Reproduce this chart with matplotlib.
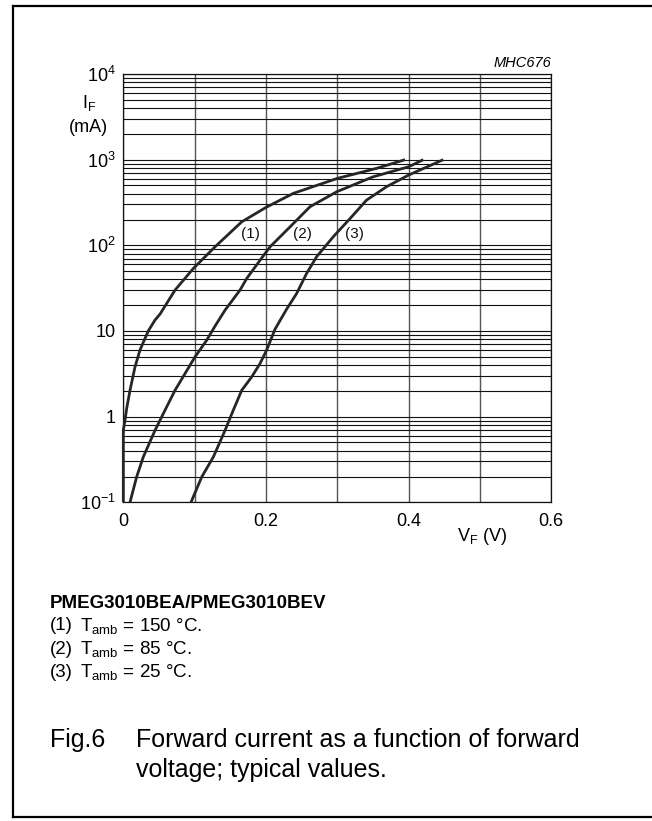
import matplotlib
matplotlib.use("Agg")
import matplotlib.pyplot as plt
from matplotlib.lines import Line2D
from matplotlib.ticker import FixedLocator, FixedFormatter, LogLocator, NullFormatter

plt.rcParams['font.family'] = ['Liberation Sans', 'DejaVu Sans']
plt.rcParams['mathtext.fontset'] = 'custom'
plt.rcParams['mathtext.rm'] = 'Liberation Sans'
plt.rcParams['mathtext.it'] = 'Liberation Sans:italic'
plt.rcParams['mathtext.bf'] = 'Liberation Sans:bold'
plt.rcParams['mathtext.sf'] = 'Liberation Sans'

# ---- data ----
vf_150 = [0.000, 0.000, 0.000, 0.0024, 0.0047, 0.0094, 0.0164, 0.0234, 0.035, 0.0444,
          0.0516, 0.0725, 0.0982, 0.1286, 0.166, 0.200, 0.2383, 0.300, 0.355, 0.395]
if_150 = [0.1, 0.40, 0.69, 0.91, 1.24, 2.03, 3.8, 6.0, 10, 13.4,
          15.8, 30, 53.7, 96, 188, 277, 404, 604, 791, 1000]

vf_85 = [0.0094, 0.0187, 0.028, 0.0444, 0.0585, 0.0725, 0.0865, 0.1005, 0.1169, 0.1286,
         0.1426, 0.1636, 0.173, 0.1917, 0.2057, 0.2337, 0.2617, 0.2992, 0.350, 0.400, 0.4206]
if_85 = [0.1, 0.198, 0.338, 0.69, 1.19, 2.03, 3.18, 4.98, 7.8, 11.4,
         17.5, 30, 41, 67, 96, 164, 282, 422, 630, 826, 1000]

vf_25 = [0.0949, 0.110, 0.1262, 0.1426, 0.1542, 0.166, 0.180, 0.1917, 0.201, 0.2127,
         0.229, 0.243, 0.257, 0.271, 0.2944, 0.318, 0.341, 0.369, 0.400, 0.4486]
if_25 = [0.1, 0.198, 0.338, 0.69, 1.19, 2.03, 2.91, 4.17, 6.0, 10.5,
         18, 27.4, 47, 73.6, 126, 206, 337, 483, 661, 1000]

curve_labels = ['(1)', '(2)', '(3)']
label_vf = [0.1786, 0.251, 0.324]
label_if = [135, 135, 135]

x_ticks = [0.0, 0.1, 0.2, 0.3, 0.4, 0.5, 0.6]
x_ticklabels = ['0', '', '0.2', '', '0.4', '', '0.6']
y_ticks = [0.1, 1, 10, 100, 1000, 10000]
y_ticklabels = [r'$10^{-1}$', '1', '10', r'$10^{2}$', r'$10^{3}$', r'$10^{4}$']

title_text = 'PMEG3010BEA/PMEG3010BEV'
legend_nums = ['(1)', '(2)', '(3)']
legend_texts = [r'T$_{\mathregular{amb}}$ = 150 °C.',
                r'T$_{\mathregular{amb}}$ = 85 °C.',
                r'T$_{\mathregular{amb}}$ = 25 °C.']
caption_tag = 'Fig.6'
caption_lines = ['Forward current as a function of forward',
                 'voltage; typical values.']
code_text = 'MHC676'

# ---- figure ----
W, H = 652, 821
fig = plt.figure(figsize=(W / 100, H / 100), dpi=100)

def fx(px):
    return px / W

def fy(py):
    return 1 - py / H

ax_left, ax_right, ax_top, ax_bottom = 123.3, 551.3, 74.0, 502.3
ax = fig.add_axes([fx(ax_left), fy(ax_bottom), (ax_right - ax_left) / W,
                   (ax_bottom - ax_top) / H])

ax.set_yscale('log')
ax.set_xlim(0, 0.6)
ax.set_ylim(0.1, 10000)

ax.xaxis.set_major_locator(FixedLocator(x_ticks))
ax.xaxis.set_major_formatter(FixedFormatter(x_ticklabels))
ax.yaxis.set_major_locator(FixedLocator(y_ticks))
ax.yaxis.set_major_formatter(FixedFormatter(y_ticklabels))
ax.yaxis.set_minor_locator(LogLocator(base=10, subs=[2, 3, 4, 5, 6, 7, 8, 9]))
ax.yaxis.set_minor_formatter(NullFormatter())

ax.tick_params(axis='both', which='both', length=0)
ax.tick_params(axis='x', labelsize=13, pad=7.5)
ax.tick_params(axis='y', labelsize=13, pad=5.5)

ax.grid(True, axis='y', which='both', color='#111111', linewidth=0.8)
ax.grid(True, axis='x', which='major', color='#555555', linewidth=1.0)
for s in ax.spines.values():
    s.set_color('#111111')
    s.set_linewidth(0.9)

curve_color = '#262626'
for v, i in [(vf_150, if_150), (vf_85, if_85), (vf_25, if_25)]:
    ax.plot(v, i, color=curve_color, linewidth=2.0, solid_joinstyle='round',
            solid_capstyle='butt', clip_on=False, zorder=3)

for lab, v, i in zip(curve_labels, label_vf, label_if):
    ax.text(v, i, lab, fontsize=11, ha='center', va='center', color='#111111', zorder=4)

# axis labels
fig.text(fx(89), fy(103), r'I$_{\mathregular{F}}$', fontsize=13, ha='center', va='center')
fig.text(fx(88), fy(128), '(mA)', fontsize=13, ha='center', va='center')
fig.text(fx(482), fy(536), r'V$_{\mathregular{F}}$ (V)', fontsize=13, ha='center', va='center')
fig.text(fx(551), fy(63), code_text, fontsize=10.5, style='italic', ha='right', va='center')

# legend block
fig.text(fx(50), fy(603), title_text, fontsize=13.5, fontweight='bold', ha='left', va='center')
legend_y = [626, 649, 672]
for num, txt, y in zip(legend_nums, legend_texts, legend_y):
    fig.text(fx(50), fy(y), num, fontsize=13.5, ha='left', va='center')
    fig.text(fx(80), fy(y), txt, fontsize=13.5, ha='left', va='center')

# caption
fig.text(fx(50), fy(746.5), caption_tag, fontsize=18, ha='left', va='baseline')
fig.text(fx(136), fy(746.5), caption_lines[0], fontsize=18, ha='left', va='baseline')
fig.text(fx(136), fy(776.5), caption_lines[1], fontsize=18, ha='left', va='baseline')

# outer frame (left, top, bottom; right side runs off the image)
frame_kw = dict(color='black', linewidth=1.6, transform=fig.transFigure)
fig.add_artist(Line2D([fx(13), fx(13)], [fy(6), fy(817)], **frame_kw))
fig.add_artist(Line2D([fx(13), 1.0], [fy(6), fy(6)], **frame_kw))
fig.add_artist(Line2D([fx(13), 1.0], [fy(817), fy(817)], **frame_kw))

fig.savefig('out.png', dpi=100, facecolor='white')
